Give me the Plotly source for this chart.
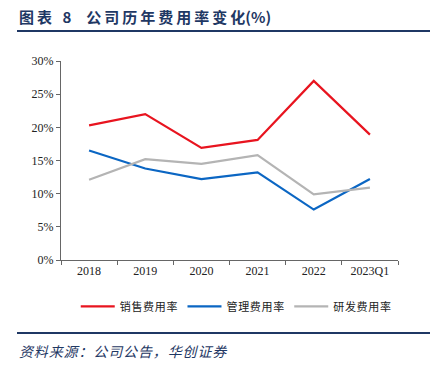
import plotly.graph_objects as go

categories = ["2018", "2019", "2020", "2021", "2022", "2023Q1"]
sales_rate = [20.3, 22.0, 16.9, 18.1, 27.0, 18.9]
admin_rate = [16.5, 13.8, 12.2, 13.2, 7.6, 12.2]
rd_rate = [12.1, 15.2, 14.5, 15.8, 9.9, 10.9]
series_names = ["销售费用率", "管理费用率", "研发费用率"]
y_ticks = [0, 5, 10, 15, 20, 25, 30]
y_tick_labels = [f"{v}%" for v in y_ticks]

serif = "Liberation Serif, Times New Roman, serif"
cjk = "Noto Sans CJK SC"
THIN = "\u2009"
HAIR = "\u200a"


def spaced(s, sep):
    return sep.join(list(s))


fig = go.Figure()
for name, vals, col in zip(series_names, [sales_rate, admin_rate, rd_rate],
                           ["#E8141F", "#0B66C3", "#B4B4B4"]):
    fig.add_trace(go.Scatter(x=categories, y=vals, name=spaced(name, HAIR), mode="lines",
                             line=dict(color=col, width=2.2)))

L, R, T, B = 61, 40, 61, 106
W, H = 438, 366
fig.update_layout(
    width=W, height=H,
    margin=dict(l=L, r=R, t=T, b=B, autoexpand=False),
    paper_bgcolor="white", plot_bgcolor="white",
    showlegend=True,
    legend=dict(orientation="h", x=0.52, xanchor="center", y=-0.16, yanchor="top",
                font=dict(family=cjk, size=11, color="#222"),
                itemwidth=34, tracegroupgap=0),
    xaxis=dict(type="category", range=[-0.5, 5.5], showgrid=False, showline=True,
               linecolor="#666", linewidth=1, ticks="outside", tickson="boundaries",
               ticklen=4, tickcolor="#666",
               tickfont=dict(family=serif, size=12, color="#222")),
    yaxis=dict(range=[0, 30], tickvals=y_ticks, ticktext=y_tick_labels, showgrid=False,
               showline=True, linecolor="#666", linewidth=1, ticks="outside",
               ticklen=4, tickcolor="#666", zeroline=False,
               tickfont=dict(family=serif, size=12, color="#222")),
)

pw, ph = W - L - R, H - T - B


def px_x(x):
    return (x - L) / pw


def px_y(y):
    return (H - B - y) / ph


title = ("<b>" + spaced("图表", THIN) + "\u2002\u20098" + "\u2003"
         + spaced("公司历年费用率变化", THIN) + "(%)</b>")
fig.add_annotation(text=title, xref="paper", yref="paper",
                   x=px_x(17), xanchor="left", y=px_y(17), yanchor="middle", showarrow=False,
                   font=dict(family=cjk, size=15, color="#1F3864"))
fig.add_annotation(text="<i>" + spaced("资料来源：公司公告，华创证券", HAIR) + "</i>",
                   xref="paper", yref="paper",
                   x=px_x(17), xanchor="left", y=px_y(351), yanchor="middle", showarrow=False,
                   font=dict(family=cjk, size=14, color="#1F3864"))
for yy in (31, 333):
    fig.add_shape(type="line", xref="paper", yref="paper", x0=px_x(17), x1=px_x(430),
                  y0=px_y(yy), y1=px_y(yy), line=dict(color="#1F3864", width=2))

fig.write_html("out.html", config={"displayModeBar": False},
               post_script="document.body.style.margin='0';")
